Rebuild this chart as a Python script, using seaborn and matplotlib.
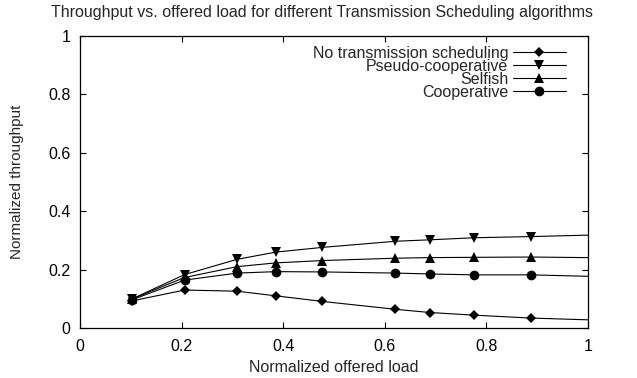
import pandas as pd
import matplotlib
matplotlib.use('Agg')
import matplotlib.pyplot as plt
import matplotlib.ticker as mticker
import seaborn as sns

# --- Data ---
offered_load = [0.103, 0.206, 0.309, 0.386, 0.477, 0.621, 0.689, 0.775, 0.887, 1.0]

no_scheduling = [0.093, 0.130, 0.126, 0.110, 0.091, 0.064, 0.053, 0.044, 0.034, 0.028]
pseudo_coop = [0.100, 0.183, 0.235, 0.260, 0.276, 0.297, 0.302, 0.309, 0.313, 0.318]
selfish = [0.100, 0.173, 0.210, 0.223, 0.231, 0.239, 0.241, 0.242, 0.243, 0.241]
cooperative = [0.097, 0.164, 0.188, 0.193, 0.192, 0.188, 0.185, 0.182, 0.182, 0.177]

series_names = ['No transmission scheduling', 'Pseudo-cooperative', 'Selfish', 'Cooperative']
series_values = [no_scheduling, pseudo_coop, selfish, cooperative]
series_markers = ['D', 'v', '^', 'o']
series_msize = [5.5, 7, 7, 7]

rows = []
for name, vals in zip(series_names, series_values):
    for x, y in zip(offered_load, vals):
        rows.append({'load': x, 'throughput': y, 'algorithm': name})
df = pd.DataFrame(rows)

# --- Style ---
FS = 11.5
sns.set_style('ticks')
plt.rcParams['font.family'] = ['Liberation Sans', 'DejaVu Sans']
plt.rcParams['font.size'] = FS

fig = plt.figure(figsize=(6.37, 3.78), dpi=100)
ax = fig.add_axes([0.1256, 0.1323, 0.7975, 0.7725])

for name, mk, ms in zip(series_names, series_markers, series_msize):
    sub = df[df['algorithm'] == name]
    sns.lineplot(data=sub, x='load', y='throughput', ax=ax, color='black',
                 linewidth=0.8, marker=mk, markersize=ms, markeredgewidth=0,
                 markevery=list(range(len(sub) - 1)), label=name)

ax.set_xlim(0, 1)
ax.set_ylim(0, 1)
ax.xaxis.set_major_locator(mticker.MultipleLocator(0.2))
ax.yaxis.set_major_locator(mticker.MultipleLocator(0.2))
ax.xaxis.set_major_formatter(mticker.FormatStrFormatter('%g'))
ax.yaxis.set_major_formatter(mticker.FormatStrFormatter('%g'))
ax.tick_params(direction='in', length=4, width=0.8, top=True, right=True,
               labelsize=FS, colors='black')
ax.tick_params(axis='x', pad=8)
ax.tick_params(axis='y', pad=7)
for sp in ax.spines.values():
    sp.set_linewidth(0.9)
    sp.set_color('black')

ax.set_xlabel('Normalized offered load', fontsize=FS, labelpad=4)
ax.set_ylabel('Normalized throughput', fontsize=11, labelpad=17)
fig.text(0.505, 0.967, 'Throughput vs. offered load for different Transmission Scheduling algorithms',
         ha='center', va='center', fontsize=FS)

# gnuplot-style key: text right-aligned, sample line after it
leg = ax.legend(loc='upper right', frameon=False, markerfirst=False,
                handlelength=3.3, handletextpad=0.3, labelspacing=-0.12,
                borderaxespad=0.2, fontsize=FS, bbox_to_anchor=(0.975, 1.0))

fig.savefig('out.png', dpi=100)
